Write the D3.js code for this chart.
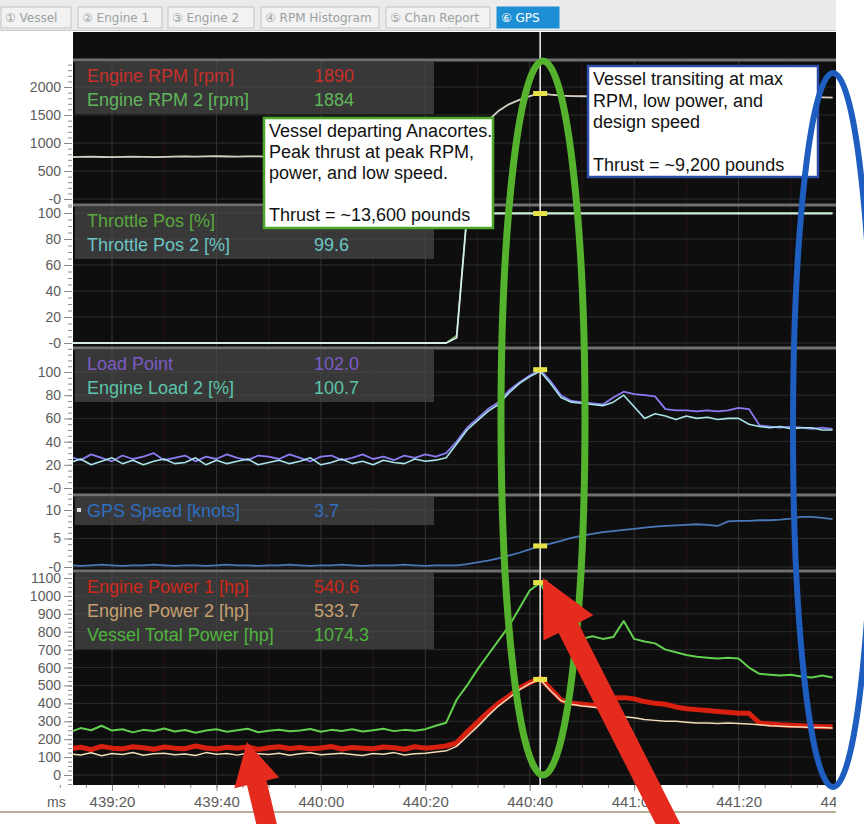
<!DOCTYPE html>
<html lang="en">

<head>
    <meta charset="UTF-8">
    <title>GPS</title>
    <script src="https://cdn.jsdelivr.net/npm/d3@7/dist/d3.min.js"></script>
    <style>
        body { margin: 0; background: #fff; }
        svg { display: block; }
    </style>
</head>

<body>
    <svg width="864" height="824" id="mainsvg"></svg>
    <script>
        // ---- data (time = seconds after 439:00) ----
        const tabLabels = ['Vessel', 'Engine 1', 'Engine 2', 'RPM Histogram', 'Chan Report', 'GPS'];
        const xTicks = [20, 40, 60, 80, 100, 120, 140, 160];
        const cursorTime = 102;
        const times = [12, 14, 16, 18, 20, 22, 24, 26, 28, 30, 32, 34, 36, 38, 40, 42, 44, 46, 48, 50,
            52, 54, 56, 58, 60, 62, 64, 66, 68, 70, 72, 74, 76, 78, 80, 82, 84, 86, 88, 90,
            92, 94, 96, 98, 100, 102, 104, 106, 108, 110, 112, 114, 116, 118, 120, 122, 124, 126, 128, 130,
            132, 134, 136, 138, 140, 142, 144, 146, 148, 150, 152, 154, 156, 158];

        const rpm1 = [750, 754, 756, 752, 748, 753, 758, 755, 751, 754, 760, 762, 758, 762, 764, 761, 759, 763, 762, 758,
            760, 763, 764, 761, 758, 762, 763, 760, 757, 759, 762, 760, 756, 758, 761, 757, 759,
            782, 962, 1192, 1402, 1572, 1692, 1772, 1837, 1890, 1864, 1847, 1840, 1837, 1834, 1832, 1836, 1838, 1832, 1830,
            1828, 1832, 1830, 1827, 1824, 1828, 1826, 1822, 1824, 1820, 1817, 1818, 1816, 1820, 1817, 1814, 1816, 1814];
        const rpm2 = [748, 752, 755, 750, 746, 751, 757, 753, 749, 752, 758, 761, 756, 760, 763, 759, 757, 762, 760, 756,
            758, 761, 763, 759, 756, 760, 762, 758, 755, 757, 760, 758, 754, 756, 759, 755, 757,
            780, 960, 1190, 1400, 1570, 1690, 1770, 1835, 1884, 1862, 1845, 1838, 1835, 1832, 1830, 1834, 1836, 1830, 1828,
            1826, 1830, 1828, 1825, 1822, 1826, 1824, 1820, 1822, 1818, 1815, 1816, 1814, 1818, 1815, 1812, 1814, 1812];
        const throttle1 = [0, 0, 0, 0, 0, 0, 0, 0, 0, 0, 0, 0, 0, 0, 0, 0, 0, 0, 0, 0,
            0, 0, 0, 0, 0, 0, 0, 0, 0, 0, 0, 0, 0, 0, 0, 0, 0,
            6, 100, 100, 100, 100, 100, 100, 100, 100, 100, 100, 100, 100, 100, 100, 100, 100, 100, 100,
            100, 100, 100, 100, 100, 100, 100, 100, 100, 100, 100, 100, 100, 100, 100, 100, 100, 100];
        const throttle2 = [0, 0, 0, 0, 0, 0, 0, 0, 0, 0, 0, 0, 0, 0, 0, 0, 0, 0, 0, 0,
            0, 0, 0, 0, 0, 0, 0, 0, 0, 0, 0, 0, 0, 0, 0, 0, 0,
            4, 99.6, 99.6, 99.6, 99.6, 99.6, 99.6, 99.6, 99.6, 99.6, 99.6, 99.6, 99.6, 99.6, 99.6, 99.6, 99.6, 99.6, 99.6,
            99.6, 99.6, 99.6, 99.6, 99.6, 99.6, 99.6, 99.6, 99.6, 99.6, 99.6, 99.6, 99.6, 99.6, 99.6, 99.6, 99.6, 99.6];
        const loadPoint = [27, 24, 29, 26, 23, 28, 25, 27, 30, 24, 26, 28, 23, 27, 25, 29, 26, 24, 28, 27,
            25, 29, 26, 23, 27, 28, 24, 26, 29, 25, 27, 24, 28, 26, 29, 27, 30,
            40, 52, 60, 68, 74, 84, 91, 97, 102, 92, 80, 75, 74, 73, 72, 78, 83, 81, 80,
            79, 68, 67, 67, 66, 67, 66, 67, 69, 68, 54, 53, 52, 53, 52, 51, 52, 51];
        const load2 = [22, 25, 20, 23, 26, 21, 24, 20, 23, 25, 21, 22, 26, 20, 24, 21, 23, 25, 20, 22,
            24, 21, 23, 26, 20, 22, 25, 21, 23, 20, 24, 22, 21, 25, 23, 24, 26,
            38, 50, 58, 66, 72, 82, 90, 96, 100.7, 90, 78, 74, 73, 72, 71, 74, 80, 70, 60,
            64, 62, 59, 62, 60, 61, 59, 60, 60, 55, 53, 52, 53, 51, 52, 52, 50, 50];
        const gpsSpeed = [0.3, 0.2, 0.3, 0.4, 0.3, 0.2, 0.3, 0.3, 0.4, 0.3, 0.2, 0.3, 0.3, 0.2, 0.3, 0.4, 0.3, 0.3, 0.2, 0.3,
            0.3, 0.4, 0.3, 0.2, 0.3, 0.3, 0.4, 0.3, 0.2, 0.3, 0.3, 0.3, 0.4, 0.3, 0.2, 0.3, 0.3,
            0.3, 0.5, 0.8, 1.1, 1.5, 2.0, 2.5, 3.1, 3.7, 4.1, 4.6, 5.1, 5.5, 5.8, 6.1, 6.3, 6.5, 6.7, 6.9,
            7.1, 7.2, 7.3, 7.4, 7.5, 7.4, 7.2, 8.0, 8.1, 8.1, 8.2, 8.2, 8.3, 8.5, 8.8, 8.8, 8.6, 8.4];
        const power1 = [148, 155, 142, 160, 150, 146, 158, 152, 144, 156, 150, 147, 162, 151, 145, 155, 149, 157, 143, 152,
            158, 148, 154, 146, 151, 159, 145, 153, 150, 147, 156, 152, 144, 158, 150, 155, 162,
            180, 240, 295, 350, 400, 440, 485, 515, 540.6, 480, 420, 400, 395, 390, 400, 430, 432, 425, 410,
            400, 395, 380, 370, 365, 360, 355, 350, 345, 345, 290, 285, 280, 278, 275, 272, 270, 270];
        const power2 = [118, 112, 124, 108, 120, 115, 126, 110, 119, 122, 113, 117, 109, 125, 116, 120, 111, 123, 118, 114,
            121, 110, 119, 124, 113, 117, 122, 115, 109, 120, 116, 125, 112, 118, 121, 128, 135,
            160, 215, 270, 330, 385, 430, 475, 510, 533.7, 470, 415, 395, 385, 380, 370, 340, 325, 320, 310,
            305, 300, 300, 295, 290, 290, 288, 290, 288, 285, 280, 275, 272, 270, 268, 265, 265, 262];
        const powerTotal = [240, 262, 250, 275, 248, 255, 238, 252, 246, 260, 243, 251, 236, 248, 255, 242, 250, 258, 239, 247,
            253, 244, 249, 257, 241, 252, 246, 255, 243, 250, 258, 245, 252, 247, 256, 275, 292,
            420, 500, 590, 670, 750, 830, 930, 1030, 1074.3, 960, 850, 780, 760, 775, 760, 770, 860, 760, 745,
            735, 700, 685, 670, 660, 655, 650, 655, 650, 600, 565, 560, 555, 560, 550, 545, 555, 545];

        const ticksRpm = [0, 500, 1000, 1500, 2000];
        const ticksPct = [0, 20, 40, 60, 80, 100];
        const ticksGps = [0, 5, 10];
        const ticksPower = [0, 100, 200, 300, 400, 500, 600, 700, 800, 900, 1000, 1100];

        const note1 = ['Vessel departing Anacortes.', 'Peak thrust at peak RPM,', 'power, and low speed.', '', 'Thrust = ~13,600 pounds'];
        const note2 = ['Vessel transiting at max', 'RPM, low power, and', 'design speed', '', 'Thrust = ~9,200 pounds'];

        // ---- layout ----
        const svg = d3.select('#mainsvg');
        const PL = 73, PR = 836, PT = 32, PB = 785;
        const FONT = "'Liberation Sans', Arial, sans-serif";

        const x = d3.scaleLinear().domain([20, 160]).range([112, 843]);
        const fmtTime = t => `${439 + Math.floor(t / 60)}:${String(t % 60).padStart(2, '0')}`;

        // the upper panels print their zero as "-0" in the source software
        const panels = [
            { id: 'rpm', top: 60, bottom: 205, scale: d3.scaleLinear().domain([0, 2000]).range([199, 87]), ticks: ticksRpm, minor: 100, negZero: true },
            { id: 'thr', top: 205, bottom: 348, scale: d3.scaleLinear().domain([0, 100]).range([343, 213]), ticks: ticksPct, minor: 5, negZero: true },
            { id: 'load', top: 348, bottom: 495, scale: d3.scaleLinear().domain([0, 100]).range([488, 372]), ticks: ticksPct, minor: 5, negZero: true },
            { id: 'gps', top: 495, bottom: 571, scale: d3.scaleLinear().domain([0, 10]).range([567, 510]), ticks: ticksGps, minor: 1, negZero: true },
            { id: 'pow', top: 571, bottom: 785, scale: d3.scaleLinear().domain([0, 1100]).range([775, 578]), ticks: ticksPower, minor: 25 }
        ];
        const panelById = {};
        panels.forEach(p => panelById[p.id] = p);

        const series = [
            { panel: 'rpm', name: 'Engine RPM [rpm]', values: rpm1, color: '#d83028', text: '#c8302a', w: 1.2, fmt: d3.format('d') },
            { panel: 'rpm', name: 'Engine RPM 2 [rpm]', values: rpm2, color: '#c8d2c4', text: '#5fb55a', w: 1.8, fmt: d3.format('d'), marker: true },
            { panel: 'thr', name: 'Throttle Pos [%]', values: throttle1, color: '#6fbf5a', text: '#58a83c', w: 1.4, fmt: null },
            { panel: 'thr', name: 'Throttle Pos 2 [%]', values: throttle2, color: '#d4ece4', text: '#6cc4c4', w: 1.8, fmt: d3.format('.1f'), marker: true },
            { panel: 'load', name: 'Load Point', values: loadPoint, color: '#8a7cf0', text: '#7c5cc4', w: 1.8, fmt: d3.format('.1f'), marker: true },
            { panel: 'load', name: 'Engine Load 2 [%]', values: load2, color: '#a8e4ea', text: '#5cc4a8', w: 1.6, fmt: d3.format('.1f') },
            { panel: 'gps', name: 'GPS Speed [knots]', values: gpsSpeed, color: '#4a78b8', text: '#2f6fc0', w: 1.8, fmt: d3.format('.1f'), marker: true, bullet: true },
            { panel: 'pow', name: 'Engine Power 1 [hp]', values: power1, color: '#d82010', text: '#d02818', w: 5, fmt: d3.format('.1f') },
            { panel: 'pow', name: 'Engine Power 2 [hp]', values: power2, color: '#f2dcb8', text: '#c8a070', w: 1.5, fmt: d3.format('.1f'), marker: true },
            { panel: 'pow', name: 'Vessel Total Power [hp]', values: powerTotal, color: '#62d04e', text: '#4fb43c', w: 2, fmt: d3.format('.1f'), marker: true }
        ];
        const ci = times.indexOf(cursorTime);

        // tab bar
        svg.append('rect').attr('x', 0).attr('y', 0).attr('width', PR).attr('height', 31).attr('fill', '#ebebeb');
        const tabX = [1, 78, 168, 261, 386, 497];
        const tabW = [70, 84, 86, 118, 104, 62];
        const circled = ['\u2460', '\u2461', '\u2462', '\u2463', '\u2464', '\u2465'];
        const tabs = svg.append('g').selectAll('g').data(tabLabels).join('g')
            .attr('transform', (d, i) => `translate(${tabX[i]},7)`);
        tabs.append('rect').attr('width', (d, i) => tabW[i]).attr('height', 21)
            .attr('fill', (d, i) => i === 5 ? '#1e8fd5' : '#f2f2f2')
            .attr('stroke', (d, i) => i === 5 ? '#1e8fd5' : '#c4c4c4');
        tabs.append('text').attr('x', 4).attr('y', 15)
            .attr('font-family', "'DejaVu Sans', 'Noto Sans CJK SC', sans-serif").attr('font-size', 12)
            .attr('fill', (d, i) => i === 5 ? '#fff' : '#9aa2a2')
            .text((d, i) => `${circled[i]} ${d}`);
        svg.append('line').attr('x1', 0).attr('x2', PR).attr('y1', 30.5).attr('y2', 30.5).attr('stroke', '#c8c8c8');

        // plot background
        svg.append('rect').attr('x', PL).attr('y', PT).attr('width', PR - PL).attr('height', PB - PT).attr('fill', '#0e0e0e');

        const defs = svg.append('defs');
        defs.append('clipPath').attr('id', 'clip-x').append('rect')
            .attr('x', 0).attr('y', 0).attr('width', PR).attr('height', 824);

        // vertical grid
        const grid = svg.append('g');
        grid.selectAll('.vminor').data(d3.range(30, 160, 20)).join('line')
            .attr('x1', d => x(d)).attr('x2', d => x(d)).attr('y1', 60).attr('y2', PB)
            .attr('stroke', '#2a1616');
        grid.selectAll('.vmajor').data(xTicks.filter(d => x(d) < PR)).join('line')
            .attr('x1', d => x(d)).attr('x2', d => x(d)).attr('y1', 60).attr('y2', PB)
            .attr('stroke', '#333');

        const line = d3.line().x(d => x(d.t)).y(d => d.y);

        panels.forEach(p => {
            defs.append('clipPath').attr('id', 'clip-' + p.id).append('rect')
                .attr('x', PL).attr('y', p.top).attr('width', PR - PL).attr('height', p.bottom - p.top);

            // horizontal grid
            grid.append('g').selectAll('line').data(p.ticks).join('line')
                .attr('x1', PL).attr('x2', PR).attr('y1', d => p.scale(d)).attr('y2', d => p.scale(d))
                .attr('stroke', '#2c2c2c');

            // y axes
            const lo = p.scale.invert(p.bottom), hi = p.scale.invert(p.top);
            const minor = d3.range(Math.ceil(lo / p.minor) * p.minor, hi, p.minor);
            const gMinor = svg.append('g').attr('transform', `translate(${PL - 1},0)`)
                .call(d3.axisLeft(p.scale).tickValues(minor).tickSize(4).tickFormat(''));
            const gMajor = svg.append('g').attr('transform', `translate(${PL - 1},0)`)
                .call(d3.axisLeft(p.scale).tickValues(p.ticks).tickSize(8).tickPadding(3)
                    .tickFormat(d => (d === 0 && p.negZero) ? '-0' : String(d)));
            [gMinor, gMajor].forEach(g => {
                g.select('.domain').remove();
                g.selectAll('line').attr('stroke', '#8a8a8a');
            });
            gMajor.selectAll('text').attr('font-family', FONT).attr('font-size', 14).attr('fill', '#5c5c5c');

            // series lines
            const gl = svg.append('g').attr('clip-path', `url(#clip-${p.id})`);
            series.filter(s => s.panel === p.id).forEach(s => {
                gl.append('path')
                    .datum(times.map((t, i) => ({ t, y: p.scale(s.values[i]) })))
                    .attr('d', line).attr('fill', 'none')
                    .attr('stroke', s.color).attr('stroke-width', s.w).attr('stroke-linejoin', 'round');
            });
        });

        // panel separators
        svg.append('g').selectAll('line').data(panels.map(p => p.top)).join('line')
            .attr('x1', PL).attr('x2', PR).attr('y1', d => d).attr('y2', d => d)
            .attr('stroke', '#707070').attr('stroke-width', 3);

        // legends
        panels.forEach(p => {
            const ss = series.filter(s => s.panel === p.id);
            const g = svg.append('g');
            g.append('rect').attr('x', 75).attr('y', p.top + 2).attr('width', 359).attr('height', ss.length * 24 + 4)
                .attr('fill', '#4a4a4a').attr('opacity', 0.72);
            ss.forEach((s, k) => {
                const cy = p.top + 15 + k * 24;
                if (s.bullet) g.append('rect').attr('x', 77).attr('y', cy - 2).attr('width', 4).attr('height', 4).attr('fill', '#ddd');
                g.append('text').attr('x', 87).attr('y', cy + 6.5).attr('font-family', FONT).attr('font-size', 18)
                    .attr('fill', s.text).text(s.name);
                if (s.fmt) g.append('text').attr('x', 314).attr('y', cy + 6.5).attr('font-family', FONT).attr('font-size', 18)
                    .attr('fill', s.text).text(s.fmt(s.values[ci]));
            });
        });

        // x axis
        const gx = svg.append('g').attr('clip-path', 'url(#clip-x)');
        const xMinorAxis = gx.append('g').attr('transform', `translate(0,${PB})`)
            .call(d3.axisBottom(x).tickValues(d3.range(10, 161, 5)).tickSize(3).tickFormat(''));
        const xMajorAxis = gx.append('g').attr('transform', `translate(0,${PB})`)
            .call(d3.axisBottom(x).tickValues(xTicks).tickSize(6).tickPadding(5).tickFormat(fmtTime));
        [xMinorAxis, xMajorAxis].forEach(g => {
            g.select('.domain').remove();
            g.selectAll('line').attr('stroke', '#8a8a8a');
        });
        xMajorAxis.selectAll('text').attr('font-family', FONT).attr('font-size', 15).attr('fill', '#5c5c5c');
        svg.append('text').attr('x', 47).attr('y', 807).attr('font-family', FONT).attr('font-size', 14)
            .attr('fill', '#5c5c5c').text('ms');
        svg.append('line').attr('x1', 0).attr('x2', PR).attr('y1', 812).attr('y2', 812)
            .attr('stroke', '#b8b098').attr('stroke-width', 2);

        // cursor and markers
        const cx = x(cursorTime);
        svg.append('line').attr('x1', cx).attr('x2', cx).attr('y1', PT).attr('y2', PB)
            .attr('stroke', '#f4f4f4').attr('stroke-width', 1.5);
        series.filter(s => s.marker).forEach(s => {
            svg.append('rect').attr('x', cx - 7).attr('y', panelById[s.panel].scale(s.values[ci]) - 2.5)
                .attr('width', 14).attr('height', 5).attr('fill', '#e6e24a');
        });

        // annotation boxes
        function noteBox(lines, bx, by, bw, bh, stroke, lineH) {
            const g = svg.append('g');
            g.append('rect').attr('x', bx).attr('y', by).attr('width', bw).attr('height', bh)
                .attr('fill', '#fff').attr('stroke', stroke).attr('stroke-width', 2.5);
            g.selectAll('text').data(lines).join('text')
                .attr('x', bx + 5).attr('y', (d, i) => by + 19 + i * lineH)
                .attr('font-family', FONT).attr('font-size', 18).attr('fill', '#111').text(d => d);
        }
        noteBox(note1, 264, 118, 229, 110, '#4ea82a', 21);
        noteBox(note2, 588, 66, 230, 111, '#2a4ea8', 21.5);

        // ellipses
        svg.append('ellipse').attr('cx', 543).attr('cy', 418).attr('rx', 42).attr('ry', 357)
            .attr('fill', 'none').attr('stroke', '#55b22c').attr('stroke-width', 7);
        svg.append('ellipse').attr('cx', 833).attr('cy', 430).attr('rx', 40).attr('ry', 357)
            .attr('fill', 'none').attr('stroke', '#1d5ec0').attr('stroke-width', 6);

        // arrows
        function arrow(tip, tail, headLen, headHalf, shaftHalf) {
            const dx = tail[0] - tip[0], dy = tail[1] - tip[1], L = Math.hypot(dx, dy);
            const ux = dx / L, uy = dy / L, px = -uy, py = ux;
            const bx = tip[0] + ux * headLen, by = tip[1] + uy * headLen;
            const pts = [tip,
                [bx + px * headHalf, by + py * headHalf], [bx + px * shaftHalf, by + py * shaftHalf],
                [tail[0] + px * shaftHalf, tail[1] + py * shaftHalf], [tail[0] - px * shaftHalf, tail[1] - py * shaftHalf],
                [bx - px * shaftHalf, by - py * shaftHalf], [bx - px * headHalf, by - py * headHalf]];
            svg.append('polygon').attr('points', pts.map(d => d.join(',')).join(' ')).attr('fill', '#e52b1e');
        }
        arrow([247, 742], [268, 830], 42, 23, 10);
        arrow([543, 578], [672, 832], 56, 28, 11);
    </script>
</body>

</html>
